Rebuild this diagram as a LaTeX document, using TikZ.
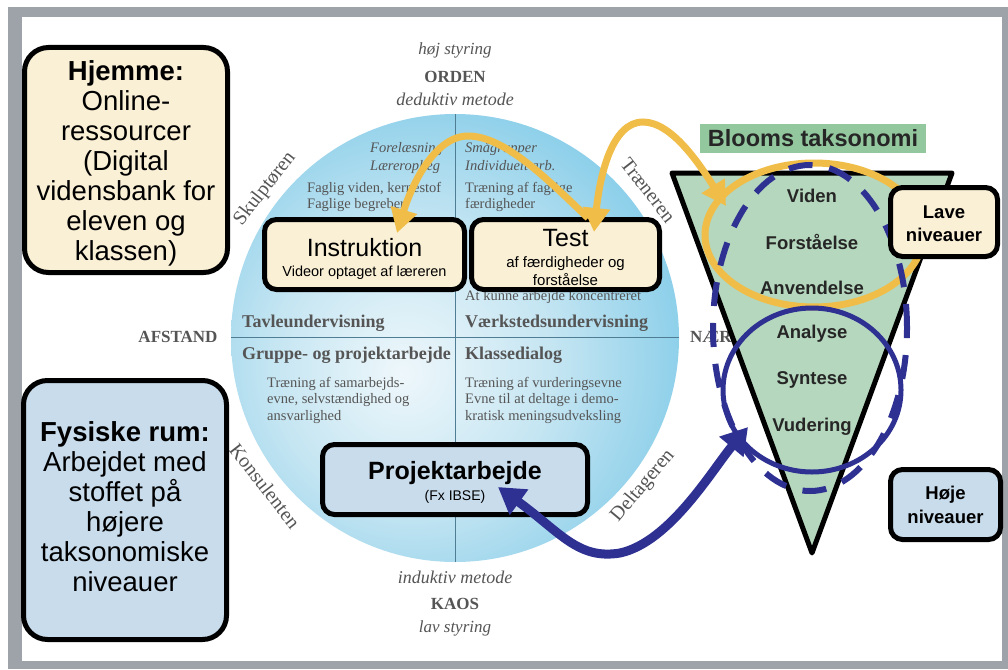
\documentclass[tikz,border=0pt]{standalone}
\usepackage{fontspec}
\setmainfont{Liberation Sans}
\newfontfamily\serifc{Liberation Serif}
\usetikzlibrary{arrows.meta,shapes.geometric}
\definecolor{cream}{HTML}{FAF0D6}
\definecolor{lblue}{HTML}{C8DCEC}
\definecolor{bloomg}{HTML}{93C89F}
\definecolor{trig}{HTML}{B5D7BD}
\definecolor{yel}{HTML}{F0BE48}
\definecolor{dblue}{HTML}{2E3192}
\definecolor{frameg}{HTML}{9EA3A9}
\definecolor{cgray}{HTML}{555555}
\definecolor{cline}{HTML}{4F7E94}
\definecolor{cz}{HTML}{EEF7FB}
\definecolor{ca}{HTML}{C4E5F2}
\definecolor{cb}{HTML}{72C5E6}
\definecolor{cc}{HTML}{32A8D8}
\pgfdeclareradialshading{circshade}{\pgfpoint{-6bp}{-4bp}}{color(0bp)=(cz); color(16bp)=(ca); color(36bp)=(cb); color(50bp)=(cc); color(80bp)=(cc)}
\tikzset{
  bigbox/.style={draw=black, line width=5pt, rounded corners=24pt, inner sep=0pt},
  midbox/.style={draw=black, line width=5pt, rounded corners=12pt, inner sep=0pt},
  bigtxt/.style={font=\fontsize{27.5}{30}\selectfont, align=center, inner sep=0pt},
  ctxt/.style={font=\serifc\fontsize{14.5}{16.5}\selectfont, text=cgray, anchor=base west, inner sep=0pt},
  citxt/.style={font=\serifc\itshape\fontsize{14.5}{16.5}\selectfont, text=cgray, anchor=base west, inner sep=0pt},
  chead/.style={font=\serifc\bfseries\fontsize{18}{20}\selectfont, text=cgray, anchor=base west, inner sep=0pt},
  cside/.style={font=\serifc\fontsize{20}{22}\selectfont, text=cgray, inner sep=0pt},
  ctop/.style={font=\serifc\itshape\fontsize{18}{20}\selectfont, text=cgray, anchor=base, inner sep=0pt},
  ctopb/.style={font=\serifc\bfseries\fontsize{17}{20}\selectfont, text=cgray, anchor=base, inner sep=0pt},
  tritxt/.style={font=\bfseries\fontsize{18.5}{22}\selectfont, text=black!85, inner sep=0pt},
  yarr/.style={draw=yel, line width=7pt, -{Triangle[length=24pt,width=26pt]}},
  yarrb/.style={draw=yel, line width=7pt, {Triangle[length=24pt,width=26pt]}-{Triangle[length=24pt,width=26pt]}},
  barr/.style={draw=dblue, line width=9pt, {Triangle[length=26pt,width=30pt]}-{Triangle[length=26pt,width=30pt]}}
}
\begin{document}
\begin{tikzpicture}[x=1pt,y=-1pt]
\useasboundingbox (0,0) rectangle (1008,669);
\fill[white] (0,0) rectangle (1008,669);
% frame
\fill[frameg] (8,7) rectangle (1008,669);
\fill[white] (22,17) rectangle (1002,661);

% circle
\shade[shading=circshade] (455,338) circle (224pt);
\draw[cline, line width=1pt] (455,114) -- (455,562);
\draw[cline, line width=1pt] (231,337) -- (679,337);

% top/bottom texts
\node[ctop, font=\serifc\itshape\fontsize{17}{20}\selectfont] (hoj) at (455,55) {høj styring};
\node[ctopb] (orden) at (455,82) {ORDEN};
\node[ctop] (dedu) at (455,105) {deduktiv metode};
\node[ctop] (indu) at (455,583) {induktiv metode};
\node[ctopb] (kaos) at (455,609) {KAOS};
\node[ctop, font=\serifc\itshape\fontsize{17}{20}\selectfont] (lav) at (455,632) {lav styring};
\node[ctopb] (afst) at (178,342) {AFSTAND};
\node[ctopb, anchor=base west] (naer) at (690,342) {NÆR};

% rotated role labels
\node[cside, rotate=52] (skulp) at (265,189) {Skulptøren};
\node[cside, rotate=-52] (traen) at (648,190) {Træneren};
\node[cside, rotate=-52] (konsu) at (265,486) {Konsulenten};
\node[cside, rotate=50] (delta) at (643,486) {Deltageren};

% quadrant texts
\node[citxt] (q1a) at (370,152) {Forelæsning};
\node[citxt] (q1b) at (370,170) {Læreroplæg};
\node[ctxt] (q1c) at (307,192) {Faglig viden, kernestof};
\node[ctxt] (q1d) at (307,208) {Faglige begreber};
\node[citxt] (q2a) at (465,152) {Smågrupper};
\node[citxt] (q2b) at (465,170) {Individuelt arb.};
\node[ctxt] (q2c) at (465,192) {Træning af faglige};
\node[ctxt] (q2d) at (465,208) {færdigheder};
\node[ctxt] (q2e) at (465,300) {At kunne arbejde koncentreret};
\node[chead] (tavl) at (242,327) {Tavleundervisning};
\node[chead] (vaerk) at (465,327) {Værkstedsundervisning};
\node[chead] (grup) at (242,359) {Gruppe- og projektarbejde};
\node[chead] (klas) at (465,359) {Klassedialog};
\node[ctxt] (q3a) at (267,387) {Træning af samarbejds-};
\node[ctxt] (q3b) at (267,403) {evne, selvstændighed og};
\node[ctxt] (q3c) at (267,420) {ansvarlighed};
\node[ctxt] (q4a) at (465,387) {Træning af vurderingsevne};
\node[ctxt] (q4b) at (465,403) {Evne til at deltage i demo-};
\node[ctxt] (q4c) at (465,420) {kratisk meningsudveksling};

% boxes in circle
\node[midbox, fill=cream, minimum width=200pt, minimum height=70pt] (instr) at (364.5,254.5) {};
\node[font=\fontsize{25}{28}\selectfont, inner sep=0pt, anchor=base] (instrT) at (364.5,256) {Instruktion};
\node[font=\fontsize{14.5}{17}\selectfont, inner sep=0pt, anchor=base] (instrS) at (364.5,276) {Videor optaget af læreren};

\node[midbox, fill=cream, minimum width=188pt, minimum height=70pt] (test) at (565.5,254.5) {};
\node[font=\fontsize{25}{28}\selectfont, inner sep=0pt, anchor=base] (testT) at (565.5,246) {Test};
\node[font=\fontsize{15}{18}\selectfont, inner sep=0pt, anchor=base] (testS) at (565.5,267) {af færdigheder og};
\node[font=\fontsize{15}{18}\selectfont, inner sep=0pt, anchor=base] (testS2) at (565.5,285) {forståelse};

\node[midbox, fill=lblue, minimum width=265pt, minimum height=70pt] (proj) at (455,479.5) {};
\node[font=\bfseries\fontsize{25}{28}\selectfont, inner sep=0pt, anchor=base] (projT) at (455,479) {Projektarbejde};
\node[font=\fontsize{14}{17}\selectfont, inner sep=0pt, anchor=base] (projS) at (455,500) {(Fx IBSE)};

% left boxes
\node[bigbox, fill=cream, minimum width=203pt, minimum height=225pt] (hjem) at (126,160) {};
\node[bigtxt] (hjemT) at (126,163) {\textbf{Hjemme:}\\Online-\\ressourcer\\(Digital\\vidensbank for\\eleven og\\klassen)};
\node[bigbox, fill=lblue, minimum width=203pt, minimum height=259pt] (fys) at (125,510) {};
\node[bigtxt] (fysT) at (125,507) {\textbf{Fysiske rum:}\\Arbejdet med\\stoffet på\\højere\\taksonomiske\\niveauer};

% Bloom
\node[fill=bloomg, minimum width=226pt, minimum height=29pt, inner sep=0pt, font=\bfseries\fontsize{23.5}{25}\selectfont, text=black!85] (bloom) at (813,138.5) {Blooms taksonomi};
\coordinate (tl) at (672,173);
\coordinate (tr) at (952,173);
\coordinate (tb) at (812,553);
\draw[line width=5pt, fill=trig, line join=round] (tl) -- (tr) -- (tb) -- cycle;
\node[tritxt] (viden) at (812,196) {Viden};
\node[tritxt] (forst) at (812,242) {Forståelse};
\node[tritxt] (anv) at (812,288) {Anvendelse};
\node[tritxt] (anal) at (812,334) {Analyse};
\node[tritxt] (synt) at (812,380) {Syntese};
\node[tritxt] (vud) at (812,427) {Vudering};

% ellipses
\draw[yel, line width=7pt] (814,235) ellipse [x radius=109pt, y radius=72pt];
\draw[dblue, line width=6pt, dash pattern=on 24pt off 17pt] (810,328) ellipse [x radius=97pt, y radius=163pt];
\draw[dblue, line width=5pt] (812,390) ellipse [x radius=89pt, y radius=82pt];

% right boxes
\node[midbox, fill=cream, minimum width=107pt, minimum height=69pt] (lave) at (944,222) {};
\node[font=\bfseries\fontsize{18.5}{23}\selectfont, align=center, inner sep=0pt] (laveT) at (944,224) {Lave\\niveauer};
\node[midbox, fill=lblue, minimum width=110pt, minimum height=70pt] (hoje) at (945.5,504.5) {};
\node[font=\bfseries\fontsize{18.5}{24}\selectfont, align=center, inner sep=0pt] (hojeT) at (945.5,505) {Høje\\niveauer};

% arrows
\coordinate (testStart) at (588,218);
\coordinate (peakA) at (468,136);
\coordinate (instrTip) at (397,233);
\coordinate (testTip) at (594,232);
\coordinate (peakB) at (643,122);
\coordinate (bloomTip) at (726,206);
\coordinate (projTip) at (498,487);
\coordinate (blueLow) at (620,553);
\coordinate (circTip) at (748,427);
\draw[yarr] (testStart) .. controls (548,180) and (505,136) .. (peakA) .. controls (433,136) and (410,190) .. (instrTip);
\draw[yarrb] (testTip) .. controls (600,175) and (612,122) .. (peakB) .. controls (672,122) and (700,165) .. (bloomTip);
\draw[barr] (projTip) .. controls (560,532) and (578,560) .. (blueLow) .. controls (670,542) and (712,470) .. (circTip);
\end{tikzpicture}
\end{document}
